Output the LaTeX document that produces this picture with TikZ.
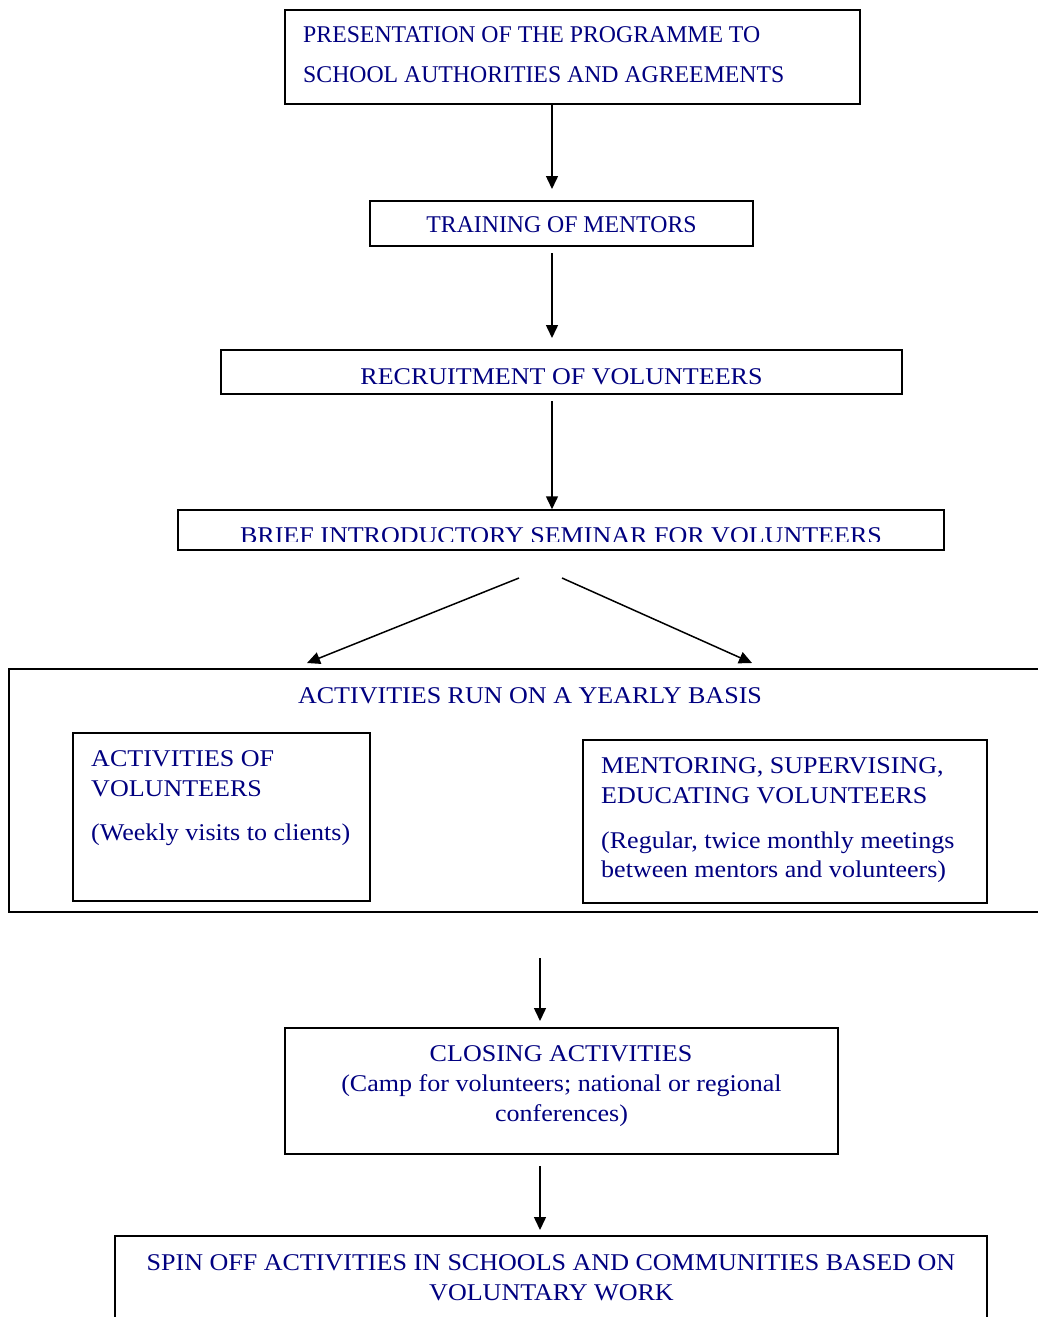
\documentclass[tikz,border=0pt]{standalone}
\usepackage{fontspec}
\setmainfont{Liberation Serif}
\newfontfamily\widefont[FakeStretch=1.085]{Liberation Serif}
\newfontfamily\narrowfont[FakeStretch=0.99]{Liberation Serif}
\usetikzlibrary{arrows.meta}
\definecolor{navy}{RGB}{0,0,128}
\begin{document}
\begin{tikzpicture}[x=1pt,y=-1pt,
  box/.style={draw, line width=1.5pt, inner sep=0pt},
  txt/.style={text=navy, font=\widefont\fontsize{24}{30}\selectfont, inner sep=0pt},
  ntxt/.style={text=navy, font=\narrowfont\fontsize{24}{30}\selectfont, inner sep=0pt},
  arr/.style={line width=1.5pt, -{Triangle[length=13pt,width=12pt]}}]
\useasboundingbox (0,0) rectangle (1038,1317);
\clip (0,0) rectangle (1038,1317);
\fill[white] (0,0) rectangle (1038,1317);

% boxes
\node[box, minimum width=575pt, minimum height=94pt] (b1) at (572.5,57) {};
\node[box, minimum width=383pt, minimum height=45pt] (b2) at (561.5,223.5) {};
\node[box, minimum width=681pt, minimum height=44pt] (b3) at (561.5,372) {};
\node[box, minimum width=766pt, minimum height=40pt] (b4) at (561,530) {};
\node[box, minimum width=297pt, minimum height=168pt] (bl) at (221.5,817) {};
\node[box, minimum width=404pt, minimum height=163pt] (br) at (785,821.5) {};
\node[box, minimum width=553pt, minimum height=126pt] (bc) at (561.5,1091) {};
\draw[line width=1.5pt] (1050,669) -- (9,669) -- (9,912) -- (1050,912);
\draw[line width=1.5pt] (115,1330) -- (115,1236) -- (987,1236) -- (987,1330);

% texts
\node[ntxt, anchor=base west] (p1) at (303,42) {PRESENTATION OF THE PROGRAMME TO};
\node[ntxt, anchor=base west] (p2) at (303,82) {SCHOOL AUTHORITIES AND AGREEMENTS};
\node[ntxt, anchor=base] (tm) at (561.5,232) {TRAINING OF MENTORS};
\node[txt, anchor=base] (rv) at (561.5,384) {RECRUITMENT OF VOLUNTEERS};
\begin{scope}
\clip (178,510) rectangle (944,541.5);
\node[txt, anchor=base] (bs) at (561,543.5) {BRIEF INTRODUCTORY SEMINAR FOR VOLUNTEERS};
\end{scope}
\node[txt, anchor=base] (ay) at (530,703) {ACTIVITIES RUN ON A YEARLY BASIS};
\node[txt, anchor=base west] (l1) at (91,766) {ACTIVITIES OF};
\node[txt, anchor=base west] (l2) at (91,796) {VOLUNTEERS};
\node[txt, anchor=base west] (l3) at (91,840) {(Weekly visits to clients)};
\node[txt, anchor=base west] (r1) at (601,773) {MENTORING, SUPERVISING,};
\node[txt, anchor=base west] (r2) at (601,803) {EDUCATING VOLUNTEERS};
\node[txt, anchor=base west] (r3) at (601,848) {(Regular, twice monthly meetings};
\node[txt, anchor=base west] (r4) at (601,877) {between mentors and volunteers)};
\node[txt, anchor=base] (c1) at (561,1061) {CLOSING ACTIVITIES};
\node[txt, anchor=base] (c2) at (561.5,1091) {(Camp for volunteers; national or regional};
\node[txt, anchor=base] (c3) at (561.5,1121) {conferences)};
\node[txt, anchor=base] (s1) at (551,1270) {SPIN OFF ACTIVITIES IN SCHOOLS AND COMMUNITIES BASED ON};
\node[txt, anchor=base] (s2) at (551.5,1300) {VOLUNTARY WORK};

% connectors
\coordinate (t1) at (552,189);
\coordinate (s2a) at (552,253);
\coordinate (t2) at (552,338);
\coordinate (s3a) at (552,401);
\coordinate (s4) at (519,578);
\coordinate (t4) at (307,663);
\coordinate (s5) at (562,578);
\coordinate (t5) at (752,663);
\coordinate (s6) at (540,958);
\coordinate (t6) at (540,1021);
\coordinate (s7) at (540,1166);
\coordinate (t7) at (540,1230);
\draw[arr] (b1.south -| t1) -- (t1);
\draw[arr] (s2a) -- (t2);
\draw[arr] (s3a) -- (b4.north -| s3a);
\draw[arr] (s4) -- (t4);
\draw[arr] (s5) -- (t5);
\draw[arr] (s6) -- (t6);
\draw[arr] (s7) -- (t7);
\end{tikzpicture}
\end{document}
